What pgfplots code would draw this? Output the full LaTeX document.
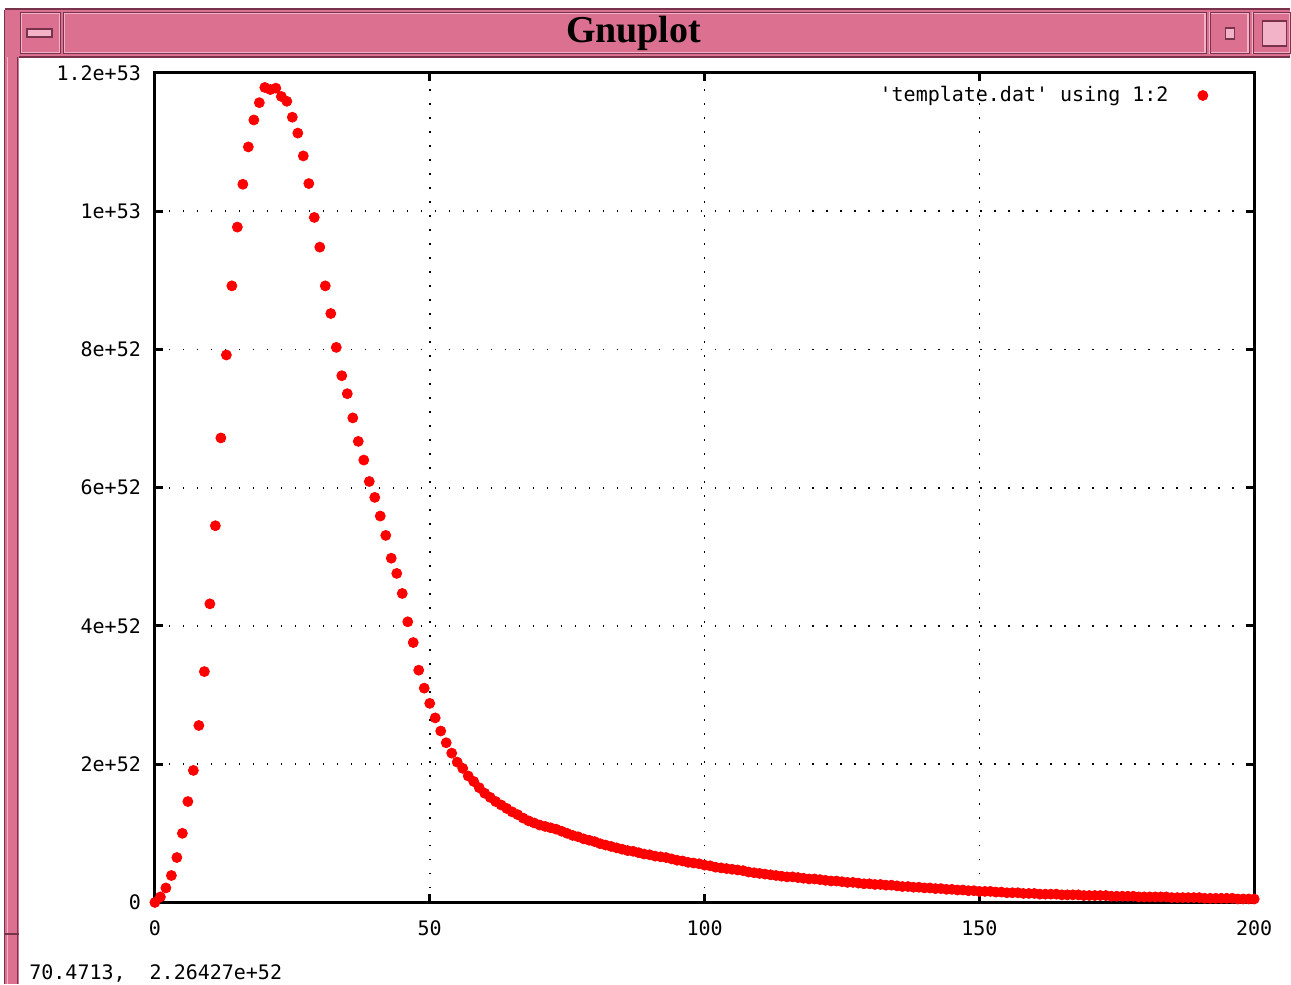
\documentclass[border=0pt]{standalone}
\usepackage{fontspec}
\setmonofont{DejaVu Sans Mono}
\newfontfamily\titlef{Liberation Serif}
\usepackage{pgfplots}
\usepackage{pgfplotstable}
\pgfplotsset{compat=1.18}
\definecolor{wpink}{RGB}{219,112,145}
\definecolor{wdark}{RGB}{120,50,75}
\definecolor{wlight}{RGB}{242,178,200}

\pgfplotstableread{
x y
0 0
1 0.08e52
2 0.21e52
3 0.39e52
4 0.65e52
5 1.00e52
6 1.46e52
7 1.91e52
8 2.56e52
9 3.34e52
10 4.32e52
11 5.45e52
12 6.72e52
13 7.92e52
14 8.92e52
15 9.77e52
16 10.39e52
17 10.93e52
18 11.32e52
19 11.57e52
20 11.79e52
21 11.76e52
22 11.78e52
23 11.66e52
24 11.59e52
25 11.36e52
26 11.13e52
27 10.80e52
28 10.40e52
29 9.91e52
30 9.48e52
31 8.92e52
32 8.52e52
33 8.03e52
34 7.62e52
35 7.36e52
36 7.01e52
37 6.67e52
38 6.40e52
39 6.09e52
40 5.86e52
41 5.59e52
42 5.31e52
43 4.98e52
44 4.76e52
45 4.47e52
46 4.06e52
47 3.76e52
48 3.36e52
49 3.10e52
50 2.88e52
51 2.67e52
52 2.48e52
53 2.31e52
54 2.16e52
55 2.03e52
56 1.94e52
57 1.83e52
58 1.75e52
59 1.66e52
60 1.58e52
61 1.52e52
62 1.46e52
63 1.41e52
64 1.36e52
65 1.31e52
66 1.27e52
67 1.22e52
68 1.18e52
69 1.15e52
70 1.12e52
71 1.10e52
72 1.08e52
73 1.06e52
74 1.03e52
75 1.00e52
76 0.97e52
77 0.95e52
78 0.92e52
79 0.90e52
80 0.88e52
81 0.85e52
82 0.83e52
83 0.81e52
84 0.79e52
85 0.77e52
86 0.75e52
87 0.74e52
88 0.72e52
89 0.70e52
90 0.69e52
91 0.67e52
92 0.66e52
93 0.65e52
94 0.63e52
95 0.61e52
96 0.60e52
97 0.58e52
98 0.57e52
99 0.56e52
100 0.54e52
101 0.53e52
102 0.51e52
103 0.50e52
104 0.49e52
105 0.48e52
106 0.47e52
107 0.46e52
108 0.44e52
109 0.43e52
110 0.42e52
111 0.41e52
112 0.40e52
113 0.39e52
114 0.38e52
115 0.37e52
116 0.37e52
117 0.36e52
118 0.35e52
119 0.34e52
120 0.34e52
121 0.33e52
122 0.32e52
123 0.31e52
124 0.31e52
125 0.30e52
126 0.29e52
127 0.29e52
128 0.28e52
129 0.27e52
130 0.27e52
131 0.26e52
132 0.26e52
133 0.25e52
134 0.25e52
135 0.24e52
136 0.23e52
137 0.23e52
138 0.22e52
139 0.22e52
140 0.21e52
141 0.21e52
142 0.20e52
143 0.20e52
144 0.19e52
145 0.19e52
146 0.18e52
147 0.18e52
148 0.17e52
149 0.17e52
150 0.16e52
151 0.16e52
152 0.16e52
153 0.15e52
154 0.15e52
155 0.14e52
156 0.14e52
157 0.14e52
158 0.13e52
159 0.13e52
160 0.13e52
161 0.12e52
162 0.12e52
163 0.12e52
164 0.12e52
165 0.11e52
166 0.11e52
167 0.11e52
168 0.11e52
169 0.10e52
170 0.10e52
171 0.10e52
172 0.10e52
173 0.10e52
174 0.09e52
175 0.09e52
176 0.09e52
177 0.09e52
178 0.09e52
179 0.08e52
180 0.08e52
181 0.08e52
182 0.08e52
183 0.08e52
184 0.08e52
185 0.07e52
186 0.07e52
187 0.07e52
188 0.07e52
189 0.07e52
190 0.07e52
191 0.06e52
192 0.06e52
193 0.06e52
194 0.06e52
195 0.06e52
196 0.06e52
197 0.05e52
198 0.05e52
199 0.05e52
200 0.05e52
}\templatedata

\begin{document}
\begin{tikzpicture}[x=0.5pt,y=-0.5pt]
% page frame
\fill[white] (0,0) rectangle (1291,985);
% left window border
\fill[wpink] (5,10) rectangle (19,985);
\draw[wdark,line width=0.5pt] (5,10) -- (5,985);
\draw[wlight,line width=0.5pt] (8,12) -- (8,985);
\draw[wdark,line width=0.5pt] (18,56) -- (18,985);
\draw[wdark,line width=1pt] (5,935) -- (19,935);
% title bar
\fill[wpink] (5,9) rectangle (1291,57);
\draw[wdark,line width=0.8pt] (5,9) -- (1291,9);
\draw[wdark,line width=0.8pt] (19,57) -- (1291,57);
% buttons
\draw[wlight,line width=0.8pt] (21,13) rectangle (60,53);
\draw[wdark,line width=0.5pt] (21,13) rectangle (61,54);
\draw[wlight,line width=0.8pt] (64,13) rectangle (1206,53);
\draw[wdark,line width=0.5pt] (64,13) rectangle (1207,54);
\draw[wlight,line width=0.8pt] (1211,13) rectangle (1249,53);
\draw[wdark,line width=0.5pt] (1211,13) rectangle (1250,54);
\draw[wlight,line width=0.8pt] (1254,13) rectangle (1291,53);
\draw[wdark,line width=0.5pt] (1254,13) rectangle (1291,54);
\draw[wdark,line width=0.6pt,fill=wlight] (27,29) rectangle (52,37);
\draw[wdark,line width=0.6pt,fill=wlight] (1226,28) rectangle (1235,39);
\draw[wdark,line width=0.6pt,fill=wlight] (1263,21) rectangle (1287,46);
\node[font=\titlef\bfseries\fontsize{19pt}{21pt}\selectfont, inner sep=0pt] at (634,33) {Gnuplot};
% status line
\node[font=\ttfamily\fontsize{10pt}{12pt}\selectfont, anchor=base west, inner sep=0pt] at (29,980) {70.4713,\ \ 2.26427e+52};

\begin{axis}[
  at={(77.5pt,-451.5pt)}, anchor=south west,
  scale only axis, width=550pt, height=415pt,
  xmin=0, xmax=200, ymin=0, ymax=1.2e53,
  xtick={0,50,100,150,200}, xticklabels={0,50,100,150,200},
  ytick={0,2e52,4e52,6e52,8e52,1e53,1.2e53},
  yticklabels={0,2e+52,4e+52,6e+52,8e+52,1e+53,1.2e+53},
  scaled y ticks=false, scaled x ticks=false,
  tick label style={font=\ttfamily\fontsize{10pt}{12pt}\selectfont},
  xticklabel style={yshift=-5.5pt},
  yticklabel style={xshift=-3.5pt},
  axis line style={line width=1.5pt},
  tick style={black, line width=1.5pt},
  major tick length=4pt,
  tick align=inside,
  grid=major,
  major grid style={black, line width=0.8pt, dash pattern=on 0.8pt off 6.2pt},
  legend plot pos=right,
  legend image code/.code={\path (0pt,0pt); \draw[#1] plot coordinates {(15pt,0pt)};},
  legend style={draw=none, fill=none, at={(1,1)}, anchor=north east,
    xshift=-20pt, yshift=-2.5pt,
    font=\ttfamily\fontsize{10pt}{12pt}\selectfont},
]
\addplot[only marks, mark=*, mark size=2.5pt, color=red,
  mark options={draw=red, fill=red}] table[x=x, y=y] {\templatedata};
\addlegendentry{'template.dat' using 1:2}
\end{axis}
\end{tikzpicture}
\end{document}
